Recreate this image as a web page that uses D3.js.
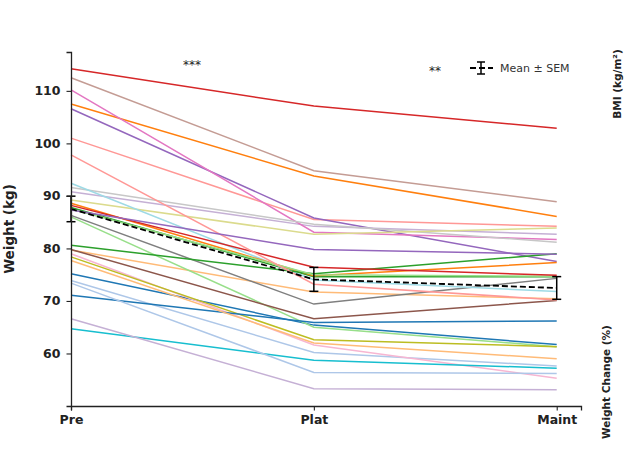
<!DOCTYPE html>
<html><head><meta charset="utf-8">
<script src="https://cdn.jsdelivr.net/npm/d3@7"></script>
<style>body{margin:0;background:#fff}svg{display:block;font-family:"DejaVu Sans",sans-serif}</style>
</head><body><svg id="c" width="627" height="471"></svg>
<script>
const timepoints = ["Pre", "Plat", "Maint"];
const yTicks = [60, 70, 80, 90, 100, 110];
const palette = ["#1f77b4","#aec7e8","#ff7f0e","#ffbb78","#2ca02c","#98df8a","#d62728","#ff9896","#9467bd","#c5b0d5",
                 "#8c564b","#c49c94","#e377c2","#f7b6d2","#7f7f7f","#c7c7c7","#bcbd22","#dbdb8d","#17becf","#9edae5"];
// per-subject weights (kg): [Pre, Plat, Maint]
const preW   = [75.2,73.9,107.5,79.7,87.8,86.0,114.2,101.0,106.6,90.8,79.8,112.5,110.2,79.0,86.3,91.6,78.4,89.2,64.7,92.4,71.1,73.4,88.6,77.7,80.6,87.5,88.2,97.8,87.3,66.6];
const platW  = [65.4,60.2,93.8,71.7,74.6,65.0,107.1,85.5,85.8,84.2,66.6,94.8,83.1,61.6,69.4,84.6,62.6,82.7,58.7,74.0,65.9,56.4,74.8,62.0,75.2,75.0,76.4,73.2,79.8,53.3];
const maintW = [61.7,57.6,86.1,70.4,74.6,61.3,102.9,84.2,77.5,82.7,70.1,88.9,81.7,55.3,74.3,81.2,61.3,83.9,57.2,71.8,66.2,56.2,77.3,59.0,79.0,74.7,74.9,70.2,78.9,53.1];
const sigLabels = ["***", "**"];

const svg = d3.select("#c");
const x = d3.scaleLinear().domain([0, 2.1]).range([71, 581]);
const y = d3.scaleLinear().domain([50, 117.4]).range([406, 52]);

const subjects = preW.map((p, i) => [p, platW[i], maintW[i]]);
const line = d3.line().x((d, i) => x(i)).y(d => y(d));

svg.append("g").selectAll("path").data(subjects).join("path")
  .attr("d", line).attr("fill", "none")
  .attr("stroke", (d, i) => palette[i % palette.length])
  .attr("stroke-width", 1.5);

// mean ± SEM
const stats = [preW, platW, maintW].map(arr => {
  const m = d3.mean(arr);
  const sem = d3.deviation(arr) / Math.sqrt(arr.length);
  return {m, sem};
});
svg.append("path").datum(stats.map(s => s.m)).attr("d", line)
  .attr("fill", "none").attr("stroke", "#000").attr("stroke-width", 1.8)
  .attr("stroke-dasharray", "6,3");
const eb = svg.append("g").attr("stroke", "#000").attr("stroke-width", 1.5);
stats.forEach((s, i) => {
  eb.append("line").attr("x1", x(i)).attr("x2", x(i)).attr("y1", y(s.m - s.sem)).attr("y2", y(s.m + s.sem));
  [s.m - s.sem, s.m + s.sem].forEach(v => eb.append("line")
    .attr("x1", x(i) - 4.5).attr("x2", x(i) + 4.5).attr("y1", y(v)).attr("y2", y(v)));
});

// axes
const yAx = svg.append("g").attr("transform", "translate(71,0)")
  .call(d3.axisLeft(y).tickValues(yTicks).tickSize(4.5).tickPadding(6));
const xAx = svg.append("g").attr("transform", "translate(0,406)")
  .call(d3.axisBottom(x).tickValues([0, 1, 2]).tickFormat(i => timepoints[i]).tickSize(4.5).tickPadding(5));
[yAx, xAx].forEach(g => {
  g.select(".domain").attr("stroke", "#222").attr("stroke-width", 1.3);
  g.selectAll(".tick line").attr("stroke", "#222").attr("stroke-width", 1.1);
  g.selectAll(".tick text").attr("fill", "#222").style("font-size", "12.5px").style("font-weight", "bold")
    .style("font-family", "DejaVu Sans");
});

svg.append("text").attr("transform", "translate(14,229) rotate(-90)").attr("text-anchor", "middle")
  .style("font-size", "13.5px").style("font-weight", "bold").attr("fill", "#222").text("Weight (kg)");

// significance marks
svg.append("text").attr("x", 192).attr("y", 69).attr("text-anchor", "middle")
  .style("font-size", "12px").attr("fill", "#222").text(sigLabels[0]);
svg.append("text").attr("x", 435).attr("y", 75).attr("text-anchor", "middle")
  .style("font-size", "12px").attr("fill", "#222").text(sigLabels[1]);

// legend
const lg = svg.append("g").attr("stroke", "#000");
lg.append("line").attr("x1", 470).attr("x2", 493).attr("y1", 68).attr("y2", 68)
  .attr("stroke-width", 1.8).attr("stroke-dasharray", "6,3");
lg.append("line").attr("x1", 481).attr("x2", 481).attr("y1", 62).attr("y2", 74).attr("stroke-width", 1.5);
lg.append("line").attr("x1", 477).attr("x2", 485).attr("y1", 62).attr("y2", 62).attr("stroke-width", 1.5);
lg.append("line").attr("x1", 477).attr("x2", 485).attr("y1", 74).attr("y2", 74).attr("stroke-width", 1.5);
svg.append("text").attr("x", 500).attr("y", 72).style("font-size", "11px").attr("fill", "#333").text("Mean ± SEM");

// side labels from neighbouring panels
svg.append("text").attr("transform", "translate(621,84) rotate(-90)").attr("text-anchor", "middle")
  .style("font-size", "10.5px").style("font-weight", "bold").attr("fill", "#222").text("BMI (kg/m²)");
svg.append("text").attr("transform", "translate(610,382) rotate(-90)").attr("text-anchor", "middle")
  .style("font-size", "10.5px").style("font-weight", "bold").attr("fill", "#222").text("Weight Change (%)");
</script></body></html>
